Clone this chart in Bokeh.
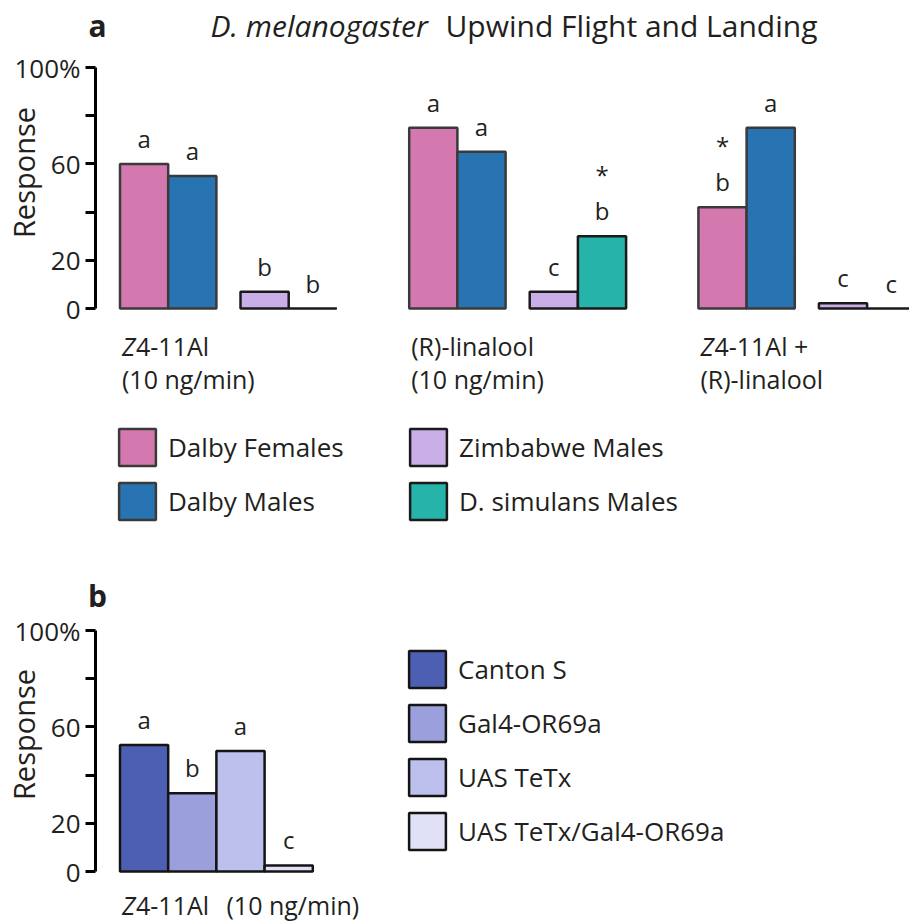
import math
from bokeh.plotting import figure
from bokeh.models import (Range1d, FixedTicker, Label, LabelSet, ColumnDataSource,
                          Legend, LegendItem)
from bokeh.layouts import column
from bokeh.core.properties import value
from bokeh.embed import file_html
from bokeh.resources import INLINE

# ---------------- data ----------------
# Panel a: three odour treatments, four fly groups
compound_line1 = ["Z4-11Al", "(R)-linalool", "Z4-11Al +"]
compound_line2 = ["(10 ng/min)", "(10 ng/min)", "(R)-linalool"]

series_a = ["Dalby Females", "Dalby Males", "Zimbabwe Males", "D. simulans Males"]
dalby_females = [60, 75, 42]
dalby_males = [55, 65, 75]
zimbabwe_males = [7, 7, 2.2]
simulans_males = [0, 30, 0]

letters_females = ["a", "a", "b"]
letters_males = ["a", "a", "a"]
letters_zimbabwe = ["b", "c", "c"]
letters_simulans = ["b", "b", "c"]
star_females = ["", "", "*"]
star_simulans = ["", "*", ""]

# Panel b: one treatment, four genotypes
compound_b = "Z4-11Al"
dose_b = "(10 ng/min)"
genotypes = ["Canton S", "Gal4-OR69a", "UAS TeTx", "UAS TeTx/Gal4-OR69a"]
genotype_values = [52.5, 32.5, 50, 2.5]
genotype_letters = ["a", "b", "a", "c"]

y_ticks = [0, 20, 40, 60, 80, 100]
y_tick_labels = {0: "0", 20: "20", 40: "", 60: "60", 80: "", 100: "100%"}

# ---------------- style ----------------
FONT = "Open Sans"
TXT = "#231f20"
colors_a = ["#d478b0", "#2874b3", "#c9aee8", "#26b3a9"]
outline_a = ["#3a3a3a", "#3a3a3a", "#1a1a1a", "#1a1a1a"]
colors_b = ["#4c5fb2", "#9b9fdc", "#bdbfec", "#e0e0f7"]

W = 909
BAR_PX = 48.2      # one bar width in pixels
X0_PX = 119.5      # pixel x of data x = 0
PXU = 2.41         # pixels per response unit
AXIS_PX = 95       # pixel x of the y axis


def X(px):
    return (px - X0_PX) / BAR_PX


def make_fig(height, zero_py):
    # zero_py: pixel y (inside this figure) of response 0
    y_end = zero_py / PXU
    y_start = -(height - zero_py) / PXU
    p = figure(width=W, height=height, x_range=Range1d(X(0), X(W)),
               y_range=Range1d(y_start, y_end), output_backend="svg",
               toolbar_location=None, x_axis_location=None, title=None,
               min_border_left=0, min_border_right=0, min_border_top=0,
               min_border_bottom=0)
    p.outline_line_color = None
    p.grid.visible = False
    ax = p.yaxis[0]
    ax.fixed_location = X(AXIS_PX)
    ax.bounds = (0, 100)
    ax.ticker = FixedTicker(ticks=y_ticks)
    ax.major_label_overrides = y_tick_labels
    ax.minor_tick_line_color = None
    ax.axis_line_width = 3
    ax.axis_line_color = "black"
    ax.major_tick_line_width = 3
    ax.major_tick_line_color = "black"
    ax.major_tick_in = 0
    ax.major_tick_out = 10
    ax.major_label_standoff = 5
    ax.major_label_text_font = FONT
    ax.major_label_text_font_size = "26px"
    ax.major_label_text_color = TXT
    return p


def px_size(size):
    return float(size.replace("px", ""))


def txt(p, yfun, x, base_py, text, size, style="normal", align="left",
        angle=0.0, x_offset=0, middle=False):
    # base_py: pixel y of the text baseline (or of its middle when middle=True)
    mid_py = base_py if middle else base_py - 0.388 * px_size(size)
    p.add_layout(Label(x=x, y=yfun(mid_py), text=text, text_font=FONT, text_font_size=size,
                       text_font_style=style, text_color=TXT, text_align=align,
                       text_baseline="middle", angle=angle, x_offset=x_offset))


def compound_label(p, yfun, x, base_py, s, size):
    if s.startswith("Z"):
        txt(p, yfun, x, base_py, "Z", size, style="italic", x_offset=2)
        txt(p, yfun, x, base_py, s[1:], size, x_offset=16)
    else:
        txt(p, yfun, x, base_py, s, size, x_offset=2)


# ---------------- panel a ----------------
HA = 560
A_ZERO = 308
pa = make_fig(HA, A_ZERO)
def YA(py):
    return (A_ZERO - py) / PXU

slot_offsets = [0.5, 1.5, 3.0, 4.0]
values_a = [dalby_females, dalby_males, zimbabwe_males, simulans_males]
letters_a = [letters_females, letters_males, letters_zimbabwe, letters_simulans]
renderers_a = []
lx, ly, lt = [], [], []
for k, vals in enumerate(values_a):
    xs = [6 * g + slot_offsets[k] for g in range(len(vals))]
    src = ColumnDataSource(dict(x=xs, top=vals))
    r = pa.vbar(x="x", top="top", bottom=0, width=1, source=src,
                fill_color=colors_a[k], line_color=outline_a[k], line_width=2.5)
    renderers_a.append(r)
    lx += xs
    ly += vals
    lt += letters_a[k]

pa.add_layout(LabelSet(x="x", y="y", text="t", source=ColumnDataSource(dict(x=lx, y=ly, t=lt)),
                       y_offset=16, text_align="center", text_baseline="alphabetic",
                       text_font=value(FONT), text_font_size=value("24px"),
                       text_color=TXT))
sx, sy, st = [], [], []
for k, stars in [(0, star_females), (3, star_simulans)]:
    for g, s in enumerate(stars):
        if s:
            sx.append(6 * g + slot_offsets[k])
            sy.append(values_a[k][g])
            st.append(s)
pa.add_layout(LabelSet(x="x", y="y", text="t", source=ColumnDataSource(dict(x=sx, y=sy, t=st)),
                       y_offset=52, text_align="center", text_baseline="alphabetic",
                       text_font=value(FONT), text_font_size=value("24px"),
                       text_color=TXT))

for g in range(len(compound_line1)):
    compound_label(pa, YA, 6 * g, 355, compound_line1[g], "25px")
    compound_label(pa, YA, 6 * g, 388, compound_line2[g], "25px")

txt(pa, YA, X(97), 36.5, "a", "30px", style="bold", align="center")
txt(pa, YA, X(210), 37, "D. melanogaster", "30px", style="italic")
txt(pa, YA, X(445), 37, "Upwind Flight and Landing", "30px")
txt(pa, YA, X(23), 172, "Response", "29px", align="center", angle=math.pi / 2, middle=True)

leg_kw = dict(orientation="vertical", glyph_width=46, glyph_height=46, spacing=8,
              label_standoff=8, padding=0, margin=0, border_line_color=None,
              background_fill_alpha=0, label_text_font=FONT,
              label_text_font_size="26px", label_text_color=TXT)
# legend location = offset of its bottom-left corner from the frame's bottom-left
pa.add_layout(Legend(items=[LegendItem(label=series_a[i], renderers=[renderers_a[i]]) for i in (0, 1)],
                     location=(114, HA - 524), **leg_kw))
pa.add_layout(Legend(items=[LegendItem(label=series_a[i], renderers=[renderers_a[i]]) for i in (2, 3)],
                     location=(405, HA - 524), **leg_kw))

# ---------------- panel b ----------------
B_TOP = 560
HB = 922 - B_TOP
B_ZERO = 871 - B_TOP
pb = make_fig(HB, B_ZERO)
def YB(py):
    return (871 - py) / PXU

renderers_b = []
for k, v in enumerate(genotype_values):
    src = ColumnDataSource(dict(x=[k + 0.5], top=[v]))
    r = pb.vbar(x="x", top="top", bottom=0, width=1, source=src,
                fill_color=colors_b[k], line_color="#141414", line_width=2.5)
    renderers_b.append(r)
pb.add_layout(LabelSet(x="x", y="y", text="t",
                       source=ColumnDataSource(dict(x=[k + 0.5 for k in range(len(genotype_values))],
                                                    y=genotype_values, t=genotype_letters)),
                       y_offset=16, text_align="center", text_baseline="alphabetic",
                       text_font=value(FONT), text_font_size=value("24px"),
                       text_color=TXT))
compound_label(pb, YB, 0, 914, compound_b, "25px")
txt(pb, YB, X(226), 914, dose_b, "25px")
txt(pb, YB, X(97), 607, "b", "30px", style="bold", align="center")
txt(pb, YB, X(23), 734, "Response", "29px", align="center", angle=math.pi / 2, middle=True)
pb.add_layout(Legend(items=[LegendItem(label=genotypes[i], renderers=[renderers_b[i]]) for i in range(4)],
                     location=(404, 922 - 854), **leg_kw))

layout = column(pa, pb, spacing=0)
open("out.html", "w").write(file_html(layout, INLINE))
